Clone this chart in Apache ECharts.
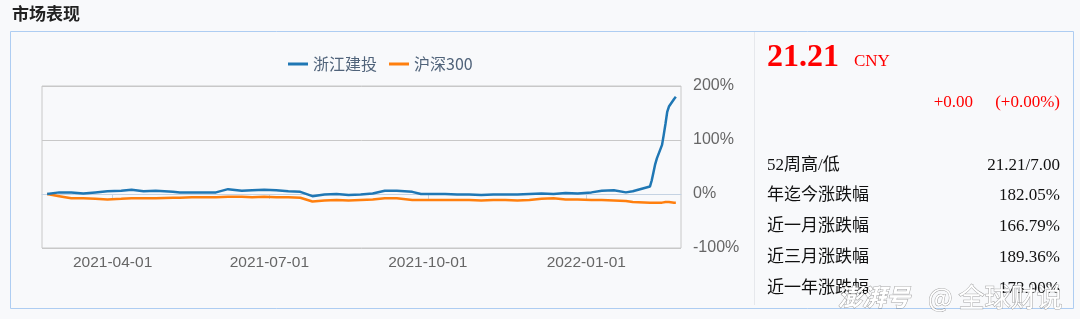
<!DOCTYPE html>
<html>
<head>
<meta charset="utf-8">
<script src="https://cdn.jsdelivr.net/npm/echarts@6/dist/echarts.min.js"></script>
<style>
html,body{margin:0;padding:0;background:#f8f9fb;}
#c{width:1080px;height:319px;}
</style>
</head>
<body>
<div id="c"></div>
<script>
// ---- data ----
const seriesNames = ['浙江建投', '沪深300'];
const dates = [
 '2021-02-22','2021-03-01','2021-03-08','2021-03-15','2021-03-22','2021-03-29','2021-04-06','2021-04-12',
 '2021-04-19','2021-04-26','2021-05-06','2021-05-10','2021-05-17','2021-05-24','2021-05-31','2021-06-07',
 '2021-06-15','2021-06-21','2021-06-28','2021-07-05','2021-07-12','2021-07-19','2021-07-26','2021-08-02',
 '2021-08-09','2021-08-16','2021-08-23','2021-08-30','2021-09-06','2021-09-13','2021-09-22','2021-09-27',
 '2021-10-08','2021-10-11','2021-10-18','2021-10-25','2021-11-01','2021-11-08','2021-11-15','2021-11-22',
 '2021-11-29','2021-12-06','2021-12-13','2021-12-20','2021-12-27','2022-01-04','2022-01-10','2022-01-17',
 '2022-01-24','2022-01-28','2022-02-07','2022-02-08','2022-02-09','2022-02-10','2022-02-11','2022-02-14',
 '2022-02-15','2022-02-16','2022-02-17','2022-02-18','2022-02-21','2022-02-22'
];
const zjjt = [
 0,3,3,1,3,5,6,8,
 5,6,4,3,3,3,3,9,
 6,7,8,7,5,4,-4,-1,
 0,-2,-1,1,6,6,4,0,
 0,0,-1,-1,-2,-1,-1,-1,
 0,1,0,2,1,3,6,7,
 3,5,14,25,40,55,66,91,
 110,130,152,162,176,180
];
const hs300 = [
 0,-4,-8,-8,-9,-10,-9,-8,
 -8,-8,-7,-7,-6,-6,-6,-5,
 -5,-6,-5,-6,-6,-7,-14,-12,
 -11,-12,-11,-10,-8,-8,-11,-11,
 -11,-11,-11,-11,-12,-11,-11,-12,
 -11,-9,-8,-10,-10,-11,-11,-12,
 -13,-15,-16,-16,-16,-16,-16,-16,
 -16,-15,-15,-15,-16,-16
];
const xTickDates = ['2021-04-01','2021-07-01','2021-10-01','2022-01-01'];
const xRange = ['2021-02-19','2022-02-25'];
const yTicks = [-100, 0, 100, 200];

const infoTitle = '市场表现';
const price = '21.21';
const currency = 'CNY';
const change = '+0.00';
const changePct = '(+0.00%)';
const infoLabels = ['52周高/低','年迄今涨跌幅','近一月涨跌幅','近三月涨跌幅','近一年涨跌幅'];
const infoValues = ['21.21/7.00','182.05%','166.79%','189.36%','173.90%'];
const watermark = ['澎湃号', '@ 全球财说'];

// ---- helpers ----
function ts(s){ const p = s.split('-').map(Number); return new Date(p[0], p[1]-1, p[2]).getTime(); }
function fmt(v){ const d = new Date(v); const m = d.getMonth()+1, dd = d.getDate();
  return d.getFullYear() + '-' + (m<10?'0':'') + m + '-' + (dd<10?'0':'') + dd; }

const serif = '"Liberation Serif","Times New Roman","Noto Sans CJK SC",serif';
const graphics = [
  {type:'text', left:12, top:5, style:{text:infoTitle, fill:'#222', font:'bold 17px "Noto Sans CJK SC","Noto Sans",sans-serif'}},
  {type:'rect', shape:{x:10.5, y:31.5, width:1063, height:277}, style:{fill:'none', stroke:'#aecdf2', lineWidth:1}, z:-1},
  {type:'line', shape:{x1:754.5, y1:32, x2:754.5, y2:305}, style:{stroke:'#e6e8ec', lineWidth:1}},
  {type:'text', x:767, y:58, style:{text:price, fill:'#ff0000', font:'bold 32px ' + serif, textVerticalAlign:'middle'}},
  {type:'text', x:854, y:62, style:{text:currency, fill:'#ff0000', font:'17px ' + serif, textVerticalAlign:'middle'}},
  {type:'text', x:973, y:103, style:{text:change, fill:'#ff0000', font:'17px ' + serif, textAlign:'right', textVerticalAlign:'middle'}},
  {type:'text', x:1060, y:103, style:{text:changePct, fill:'#ff0000', font:'17px ' + serif, textAlign:'right', textVerticalAlign:'middle'}}
];
const rowY = [166, 196, 227, 258, 289];
infoLabels.forEach((l,i)=>{
  graphics.push({type:'text', x:767, y:rowY[i], style:{text:l, fill:'#111', font:'17px ' + serif, textVerticalAlign:'middle'}});
  graphics.push({type:'text', x:1060, y:rowY[i], style:{text:infoValues[i], fill:'#111', font:'17px ' + serif, textAlign:'right', textVerticalAlign:'middle'}});
});
graphics.push({type:'text', x:838, y:297, z:100, style:{text:watermark[0], fill:'#ffffff', stroke:'rgba(90,90,90,0.55)', lineWidth:1,
  font:'italic bold 24px "Noto Sans CJK SC",sans-serif', textVerticalAlign:'middle'}});
graphics.push({type:'text', x:928, y:297, z:100, style:{text:watermark[1], fill:'#ffffff', stroke:'rgba(90,90,90,0.55)', lineWidth:1,
  font:'26px "Noto Sans CJK SC",sans-serif', textVerticalAlign:'middle'}});

const chart = echarts.init(document.getElementById('c'), null, {renderer:'canvas'});
chart.setOption({
  backgroundColor:'#f8f9fb',
  animation:false,
  color:['#1f77b4','#ff7f0e'],
  legend:{
    left:283, top:51, itemWidth:20, itemHeight:3, itemGap:12, icon:'rect',
    textStyle:{color:'#50637a', fontSize:16, fontFamily:'"Noto Sans CJK SC","Noto Sans",sans-serif'},
    data:seriesNames
  },
  grid:{left:42, right:399, top:86, bottom:71, show:true, borderColor:'#c8c8c8', borderWidth:1, backgroundColor:'transparent'},
  xAxis:{
    type:'value', min:ts(xRange[0]), max:ts(xRange[1]), scale:true,
    axisLine:{show:true, lineStyle:{color:'#c5d3e3', width:1}},
    axisTick:{show:true, length:5, lineStyle:{color:'#c5d3e3'}, customValues:xTickDates.map(ts)},
    axisLabel:{customValues:xTickDates.map(ts), formatter:fmt, color:'#666', fontSize:15.5, margin:7,
      fontFamily:'"Liberation Sans",Arial,sans-serif'},
    splitLine:{show:false}
  },
  yAxis:{
    type:'value', position:'right', min:yTicks[0], max:yTicks[yTicks.length-1], interval:100,
    axisLine:{show:false}, axisTick:{show:false},
    axisLabel:{formatter:'{value}%', color:'#666', fontSize:16, margin:12, padding:[8,0,0,0],
      fontFamily:'"Liberation Sans",Arial,sans-serif'},
    splitLine:{show:true, lineStyle:{color:'#c8c8c8', width:1}}
  },
  series:[
    {name:seriesNames[0], type:'line', symbol:'none', lineStyle:{width:2.5}, z:3,
      data:dates.map((d,i)=>[ts(d), zjjt[i]])},
    {name:seriesNames[1], type:'line', symbol:'none', lineStyle:{width:2.5}, z:2,
      data:dates.map((d,i)=>[ts(d), hs300[i]])}
  ],
  graphic:graphics
});
</script>
</body>
</html>
